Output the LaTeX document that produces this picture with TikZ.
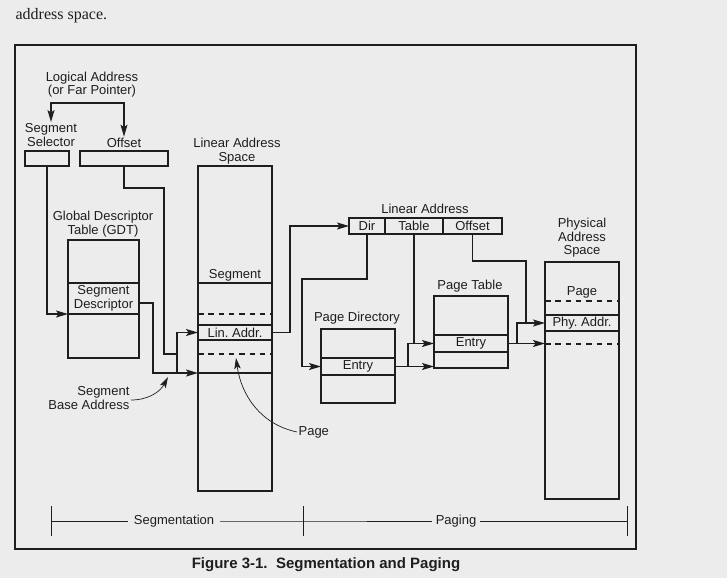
\documentclass[tikz,border=0pt]{standalone}
\usepackage{fontspec}
\setmainfont{Liberation Sans}
\newfontfamily\bodyserif{Liberation Serif}
\definecolor{pagegray}{RGB}{236, 236, 236}
\definecolor{inkgray}{RGB}{30, 30, 30}
\usepackage{tikz}
\usetikzlibrary{arrows.meta, positioning, calc}
\tikzset{
  lbl/.style={font=\fontsize{13}{13.5}\selectfont, text=inkgray, align=center, inner sep=1pt},
  box/.style={lbl, draw=inkgray, inner sep=0pt, outer sep=0pt, anchor=north west},
  arr/.style={-{Stealth[length=12pt, width=7pt, inset=2.5pt]}},
  dblarr/.style={{Stealth[length=12pt, width=7pt, inset=2.5pt]}-{Stealth[length=12pt, width=7pt, inset=2.5pt]}},
  thinarr/.style={line width=0.7pt, -{Stealth[length=11pt, width=6.5pt, inset=2.5pt]}},
  dashrow/.style={line width=2pt, dash pattern=on 5.5pt off 4.8pt},
}

\begin{document}
\begin{tikzpicture}[x=1pt, y=-1pt, line width=1.2pt, color=inkgray]
  % Page and frame
  \fill[pagegray] (0,0) rectangle (727,578);
  \node[anchor=base west, font=\bodyserif\fontsize{16}{16}\selectfont, inner sep=0pt] (head) at (15,20) {address space.};
  \draw[line width=1.4pt] (15,45) rectangle (636,549);

  % Logical address
  \node[lbl] (logaddr) at (92,84.5) {Logical Address\\(or Far Pointer)};
  \node[lbl] (seltxt) at (51,135) {Segment\\Selector};
  \node[lbl] (offtxt) at (124,143) {Offset};
  \coordinate (lbar) at (90,103);
  \draw[dblarr] (seltxt.north) |- (lbar) -| (offtxt.north);
  \node[box, minimum width=44, minimum height=15] (sel) at (25,151) {};
  \node[box, minimum width=88, minimum height=15] (off) at (80,151) {};

  % Global descriptor table
  \node[lbl] (gdttxt) at (103,224) {Global Descriptor\\Table (GDT)};
  \node[box, minimum width=71, minimum height=118] (gdt) at (68,240) {};
  \node[box, minimum width=71, minimum height=31] (sd) at (68,283) {Segment\\Descriptor};
  \draw[arr] (sel.south) |- (sd.south west);

  % Linear address space
  \node[lbl] (lastxt) at (237,151) {Linear Address\\Space};
  \node[box, minimum width=74, minimum height=325] (las) at (198,166) {};
  \node[lbl] (segtxt) at (235,275) {Segment};
  \draw (198,283) -- (272,283);
  \draw[dashrow] (198,314) -- (272,314);
  \node[box, minimum width=74, minimum height=15] (linrow) at (198,325) {Lin.\ Addr.};
  \draw[dashrow] (198,354) -- (272,354);
  \draw (198,373) -- (272,373);

  % Base + offset
  \coordinate (sdout) at ([yshift=-4.5pt]sd.east);
  \coordinate (basein) at (198,373);
  \coordinate (addseg) at (177,373);
  \draw[arr] (sdout) -| (153,373) -- (basein);
  \draw[arr] (addseg) |- (linrow.west);
  \draw (off.south) |- (164,188) |- (177,354);

  \node[lbl, anchor=east, align=right] (sbatxt) at (131,398) {Segment\\Base Address};
  \draw[thinarr] ([yshift=-2pt]sbatxt.east) to[out=0, in=-118] (168,377);
  \node[lbl, anchor=west] (pagelbl) at (297,432) {Page};
  \draw[thinarr] (pagelbl.west) to[out=168, in=-82] (236,358);

  % Linear address
  \node[lbl] (latxt) at (425,209) {Linear Address};
  \node[box, minimum width=36, minimum height=16] (dir) at (349,218) {Dir};
  \node[box, minimum width=58, minimum height=16, right=0pt of dir] (tbl) {Table};
  \node[box, minimum width=59, minimum height=16, right=0pt of tbl] (ofs) {Offset};
  \draw[arr] (linrow.east) -- ++(18,0) |- (dir.west);

  % Page directory
  \node[lbl] (pdtxt) at (357,318) {Page Directory};
  \node[box, minimum width=74, minimum height=74] (pd) at (321,329) {};
  \node[box, minimum width=74, minimum height=17] (pdent) at (321,358) {Entry};
  \draw[arr] (dir.south) |- (302,279) |- (pdent.west);

  % Page table
  \node[lbl] (pttxt) at (470,286) {Page Table};
  \node[box, minimum width=74, minimum height=72] (pt) at (434,296) {};
  \node[box, minimum width=74, minimum height=17] (ptent) at (434,335) {Entry};
  \draw[arr] (pdent.east) -- (pdent.east -| pt.west);
  \draw[arr] ($(pdent.east)+(13,0)$) |- (ptent.west);
  \draw (tbl.south) -- (tbl.south |- ptent.west);

  % Physical address space
  \node[lbl] (pastxt) at (582,238) {Physical\\Address\\Space};
  \node[box, minimum width=74, minimum height=237] (pas) at (545,262) {};
  \node[lbl] (pgtxt) at (582,292) {Page};
  \draw[dashrow] (545,301) -- (619,301);
  \node[box, minimum width=74, minimum height=16] (phyrow) at (545,315) {Phy.\ Addr.};
  \draw[dashrow] (545,344) -- (619,344);
  \coordinate (ofsturn) at (526,261);
  \draw[arr] (ptent.east) -- (ptent.east -| pas.west);
  \draw[arr] (ofs.south) |- (ofsturn) |- (phyrow.west);
  \draw ($(ptent.east)+(9,0)$) |- (ofsturn |- phyrow.west);

  % Scale
  \node[lbl, inner sep=5pt] (segscale) at (174,521) {Segmentation};
  \node[lbl, inner sep=3pt] (pagscale) at (456,521) {Paging};
  \coordinate (tkL) at (51,521);
  \coordinate (tkM) at (303,521);
  \coordinate (tkR) at (627,521);
  \draw[line width=0.9pt] (tkL) -- (segscale.west) (segscale.east) -- (tkM) -- (pagscale.west) (pagscale.east) -- (tkR);
  \foreach \t in {tkL, tkM, tkR}
    \draw[line width=0.9pt] ([yshift=15pt]\t) -- ([yshift=-15pt]\t);

  \node[font=\bfseries\fontsize{15}{15}\selectfont, inner sep=0pt] (caption) at (326,565) {Figure 3-1.\ \ Segmentation and Paging};
\end{tikzpicture}
\end{document}
